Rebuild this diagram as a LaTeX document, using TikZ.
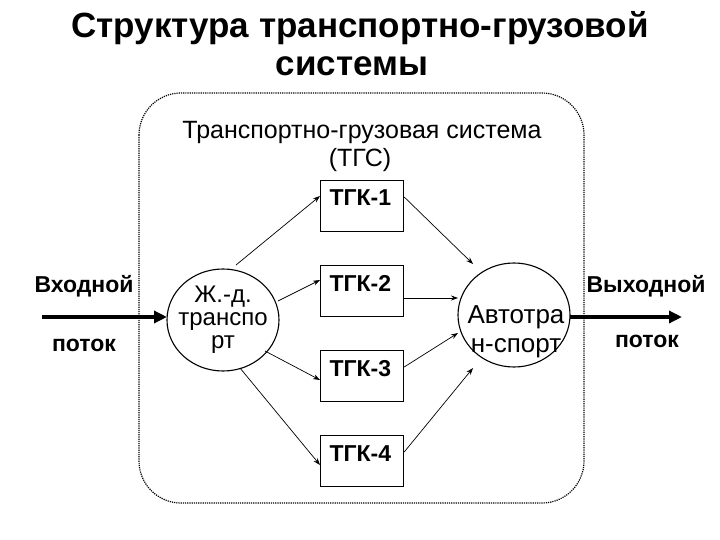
\documentclass[tikz,border=0pt]{standalone}
\usepackage{fontspec}
\setmainfont{Liberation Sans}
\usetikzlibrary{arrows.meta}
\begin{document}
\begin{tikzpicture}[x=1pt,y=-1pt,
  box/.style={draw,line width=1.2pt,minimum width=83pt,minimum height=51pt,inner sep=0pt},
  boxlab/.style={font=\fontsize{23}{23}\selectfont\bfseries,anchor=base west},
  thin/.style={-{Stealth[length=7pt,width=5pt]},line width=0.7pt},
  thick/.style={-{Triangle[length=13pt,width=12pt]},line width=4.5pt},
  lab/.style={font=\fontsize{23}{23}\selectfont\bfseries}]
\useasboundingbox (0,0) rectangle (720,540);
\node[font=\fontsize{35}{35}\selectfont\bfseries] (t1) at (360,28) {Структура транспортно-грузовой};
\node[font=\fontsize{35}{35}\selectfont\bfseries] (t2) at (352,66) {системы};
\draw[densely dotted,line width=1.2pt,rounded corners=42pt] (139,93) rectangle (584,503);
\node[font=\fontsize{25}{25}\selectfont] (s1) at (362,132) {Транспортно-грузовая система};
\node[font=\fontsize{25}{25}\selectfont] (s2) at (360,160) {(ТГС)};
\foreach \i/\y in {1/180,2/265,3/350,4/435}{
  \node[box,anchor=north west] (k\i) at (320,\y) {};
  \node[boxlab] at (326,\y+26) {ТГК-\i};
}
\draw[line width=1.1pt] (223,320) ellipse (56pt and 51pt);
\node[font=\fontsize{24}{23}\selectfont,align=center] (ltxt) at (223,320) {Ж.-д.\\транспо\\рт};
\draw[line width=1.1pt] (514,315) ellipse (56pt and 52pt);
\node[font=\fontsize{26}{29}\selectfont,align=center] (rtxt) at (516,332) {Автотра\\н-спорт};
\coordinate (l1) at (236,265); \coordinate (l2) at (278,301);
\coordinate (l3) at (265,351); \coordinate (l4) at (240,368);
\draw[thin] (l1) -- ([yshift=-16pt]k1.north west);
\draw[thin] (l2) -- ([yshift=-15pt]k2.north west);
\draw[thin] (l3) -- ([yshift=-30pt]k3.north west);
\draw[thin] (l4) -- ([yshift=-30pt]k4.north west);
\coordinate (r1) at (473,264); \coordinate (r2) at (458,298);
\coordinate (r3) at (458,333); \coordinate (r4) at (473,368);
\draw[thin] ([yshift=-17pt]k1.north east) -- (r1);
\draw[thin] ([yshift=-33pt]k2.north east) -- (r2);
\draw[thin] ([yshift=-17pt]k3.north east) -- (r3);
\draw[thin] ([yshift=-17pt]k4.north east) -- (r4);
\coordinate (in0) at (42,317); \coordinate (in1) at (167,317);
\coordinate (out0) at (570,317); \coordinate (out1) at (682,317);
\draw[thick] (in0) -- (in1);
\draw[thick] (out0) -- (out1);
\node[lab] (a1) at (84,286) {Входной};
\node[lab] (a2) at (84,345) {поток};
\node[lab] (b1) at (646,286) {Выходной};
\node[lab] (b2) at (647,341) {поток};
\end{tikzpicture}
\end{document}
